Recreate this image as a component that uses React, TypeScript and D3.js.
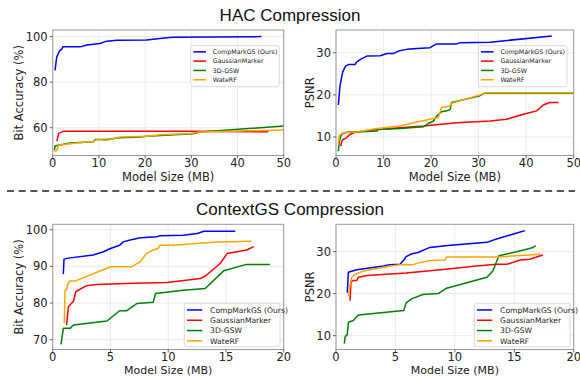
import React from "react";
import * as d3 from "d3";

const seriesNames = ["CompMarkGS (Ours)", "GaussianMarker", "3D-GSW", "WateRF"];
const seriesColors = ["#0000ff", "#ff0000", "#008000", "#ffa500"];

// HAC Bit Accuracy
const hacAccBlue: [number, number][] = [[0.5,85.2],[0.87,91],[1.44,93.6],[1.95,94.5],[2.2,95.5],[5.9,95.5],[7.4,96.3],[10.2,97],[11.7,98],[13.9,98.4],[20.3,98.5],[24.7,99.5],[26,99.7],[45.2,100]];
const hacAccRed: [number, number][] = [[0.9,54.1],[1.3,57.5],[2.3,58.4],[30,58.4],[46.7,58.2]];
const hacAccGreen: [number, number][] = [[0.36,50.1],[0.5,52],[1.2,52.3],[3.75,53.3],[8.8,53.8],[9.2,54.8],[11.7,54.8],[14.6,55.6],[18.9,55.9],[20.3,56.3],[30.4,57.3],[31.9,58.1],[50,60.7]];
const hacAccOrange: [number, number][] = [[0.36,49.6],[0.87,50],[1.2,52.1],[1.6,52.4],[6.6,53.6],[8.8,54],[9.5,54.8],[11.7,54.5],[14.6,55.9],[20.3,56.3],[23.2,56.9],[29.7,57.5],[31.9,58.1],[39.1,58.5],[50,59]];

// HAC PSNR
const hacPsnrBlue: [number, number][] = [[0.49,17.6],[0.84,22.2],[1.4,25.4],[1.7,26.1],[2.0,26.8],[2.6,27.2],[4,27.2],[4.3,27.8],[5.4,28.6],[6.5,29.2],[9.3,29.3],[10.7,29.8],[12.1,29.8],[13.1,30.4],[14.9,30.8],[17,31],[19.8,31.2],[20.5,31.7],[21.2,32.1],[25.4,32.1],[26.1,32.4],[32.4,32.5],[45.4,34]];
const hacPsnrRed: [number, number][] = [[1,7.8],[1.2,9],[1.5,9.4],[2.2,9.8],[2.9,10.6],[4.3,11.2],[8.6,11.8],[13.5,12.2],[18.4,12.6],[25.4,13.4],[32.4,13.8],[35.9,14.2],[39.4,15.4],[42.2,16.2],[43.6,17.6],[45,18.2],[46.8,18.2]];
const hacPsnrGreen: [number, number][] = [[0.49,6.6],[0.7,9],[1,10.2],[1.5,10.9],[2.6,11.2],[4.3,11.2],[8.6,11.4],[8.9,11.8],[13.5,12],[18.4,12.4],[19.4,13.2],[20.5,13.8],[21.2,15],[22.2,16],[23.3,16.2],[24,16.5],[24.3,18.2],[30.3,19.8],[31.3,20.4],[50,20.4]];
const hacPsnrOrange: [number, number][] = [[0.49,8.2],[0.7,10.4],[1.5,11],[4.3,11.2],[8.6,12],[13.5,12.6],[15.6,13.2],[20.5,14.4],[21.5,14.6],[22.2,17],[23.3,17.2],[24,17.4],[24.3,18],[30.3,20],[31.3,20.5],[50,20.5]];

// ContextGS Bit Accuracy
const ctxAccBlue: [number, number][] = [[0.92,87.9],[0.98,92],[1.2,92.2],[3.5,93.1],[4.4,94],[5,94.9],[5.8,95.8],[6.1,96.7],[6.7,97.2],[7.6,97.8],[9,98.1],[9.3,98.4],[11.3,98.5],[12.5,99],[13.1,99.6],[15.8,99.6]];
const ctxAccRed: [number, number][] = [[1.2,74],[1.36,79],[1.65,80],[1.8,80.5],[2.0,83.1],[2.2,83.5],[2.9,84.7],[3.8,85.1],[7,85.4],[9.9,85.6],[12.8,86.7],[13.3,87.6],[14.5,90.8],[15.1,93.5],[16.8,94.5],[17.4,95.4]];
const ctxAccGreen: [number, number][] = [[0.72,68.7],[0.92,73.1],[1.5,73.1],[1.8,74],[4.7,75.1],[5.8,77.9],[6.4,77.9],[7.3,79.9],[8.7,80.2],[8.9,82.6],[11.3,83.5],[13.2,84],[14.8,88.8],[16.7,90.5],[18.8,90.5]];
const ctxAccOrange: [number, number][] = [[1.0,74.5],[1.07,83.5],[1.2,83.7],[1.36,85.6],[1.5,86],[1.93,86],[5,89.9],[6.8,89.9],[7.6,91.3],[8.1,93.5],[8.7,94.5],[9.1,94.9],[9.3,95.8],[10.4,95.8],[14.2,96.7],[17.2,96.9]];

// ContextGS PSNR
const ctxPsnrBlue: [number, number][] = [[0.95,20.2],[1.04,25.1],[1.74,25.7],[4,26.6],[4.5,26.9],[5.4,27],[5.7,28],[5.9,28.8],[6.4,29.5],[6.9,29.8],[7.9,31],[9.2,31.4],[10.4,31.7],[12.7,32.2],[13.5,33],[15.9,35]];
const ctxPsnrRed: [number, number][] = [[1.18,18.3],[1.26,22.8],[1.46,23.1],[1.74,23.1],[1.88,23.9],[2.6,24.3],[5.9,24.9],[8.8,25.7],[11.6,26.5],[13.5,27],[14.4,27],[15.5,28],[16.3,28.2],[17.4,29.2]];
const ctxPsnrGreen: [number, number][] = [[0.7,8.1],[0.76,9.7],[0.95,10.3],[1.04,13.2],[1.46,13.6],[1.88,14.9],[5.7,16],[5.9,17.8],[6.4,18.8],[7.3,19.8],[8.6,20],[9.3,21.3],[12.7,23.9],[13.2,25.4],[13.7,29],[15.8,30.4],[16.5,30.9],[16.8,31.4]];
const ctxPsnrOrange: [number, number][] = [[1.04,19.4],[1.18,22.1],[1.32,23.9],[1.6,24.5],[2.2,25.3],[4.5,26.5],[5.4,26.9],[6.5,26.9],[6.8,27.2],[7.9,27.9],[9.2,28],[9.3,28.7],[13.5,28.7],[17.2,29.4]];

const hacXTicks = [0, 10, 20, 30, 40, 50];
const ctxXTicks = [0, 5, 10, 15, 20];
const hacAccYTicks = [60, 80, 100];
const hacPsnrYTicks = [10, 20, 30];
const ctxAccYTicks = [70, 80, 90, 100];
const ctxPsnrYTicks = [10, 20, 30];

const titles = ["HAC Compression", "ContextGS Compression"];
const xLabel = "Model Size (MB)";
const yLabels = ["Bit Accuracy (%)", "PSNR"];

const FONT = "DejaVu Sans, sans-serif";
const FS = 11.5;

type PanelProps = {
  left: number; right: number; top: number; bottom: number;
  xDomain: [number, number]; yDomain: [number, number];
  xTicks: number[]; yTicks: number[];
  series: [number, number][][];
  yLabel: string; yLabelX: number; xLabelY: number; xLabelFs: number;
  legend: { x: number; y: number; w: number; h: number; fs: number; rowH: number };
  id: string;
};

function Panel(p: PanelProps) {
  const x = d3.scaleLinear().domain(p.xDomain).range([p.left, p.right]);
  const y = d3.scaleLinear().domain(p.yDomain).range([p.bottom, p.top]);
  const line = d3.line<[number, number]>().x((d) => x(d[0])).y((d) => y(d[1]));
  const lg = p.legend;
  return (
    <g>
      <defs>
        <clipPath id={p.id}>
          <rect x={p.left} y={p.top} width={p.right - p.left} height={p.bottom - p.top} />
        </clipPath>
      </defs>
      <rect x={p.left} y={p.top} width={p.right - p.left} height={p.bottom - p.top} fill="white" />
      {p.xTicks.map((t) => (
        <line key={"gx" + t} x1={x(t)} x2={x(t)} y1={p.top} y2={p.bottom} stroke="#e6e6e6" strokeWidth={0.8} />
      ))}
      {p.yTicks.map((t) => (
        <line key={"gy" + t} x1={p.left} x2={p.right} y1={y(t)} y2={y(t)} stroke="#e6e6e6" strokeWidth={0.8} />
      ))}
      <g clipPath={`url(#${p.id})`}>
        {p.series.map((s, i) => (
          <path key={i} d={line(s) || ""} fill="none" stroke={seriesColors[i]} strokeWidth={1.5} strokeLinejoin="round" />
        ))}
      </g>
      <rect x={p.left} y={p.top} width={p.right - p.left} height={p.bottom - p.top} fill="none" stroke="#999" strokeWidth={1} />
      {p.xTicks.map((t) => (
        <g key={"tx" + t}>
          <line x1={x(t)} x2={x(t)} y1={p.bottom} y2={p.bottom + 3} stroke="#444" strokeWidth={0.8} />
          <text x={x(t)} y={p.bottom + 11.8} textAnchor="middle" fontSize={FS} fontFamily={FONT} fill="#222">{t}</text>
        </g>
      ))}
      {p.yTicks.map((t) => (
        <g key={"ty" + t}>
          <line x1={p.left - 3} x2={p.left} y1={y(t)} y2={y(t)} stroke="#444" strokeWidth={0.8} />
          <text x={p.left - 5} y={y(t)} dy="0.35em" textAnchor="end" fontSize={FS} fontFamily={FONT} fill="#222">{t}</text>
        </g>
      ))}
      <text x={(p.left + p.right) / 2} y={p.xLabelY} textAnchor="middle" fontSize={p.xLabelFs} fontFamily={FONT} fill="#222">{xLabel}</text>
      <text transform={`translate(${p.yLabelX},${(p.top + p.bottom) / 2}) rotate(-90)`} textAnchor="middle" dy="0.35em" fontSize={FS} fontFamily={FONT} fill="#222">{p.yLabel}</text>
      <rect x={lg.x} y={lg.y} width={lg.w} height={lg.h} rx={2} fill="white" fillOpacity={0.85} stroke="#d0d0d0" strokeWidth={0.8} />
      {seriesNames.map((n, i) => {
        const cy = lg.y + lg.rowH * (i + 0.5) + 1.5;
        return (
          <g key={n}>
            <line x1={lg.x + 2.7} x2={lg.x + 2.7 + lg.fs * 2} y1={cy} y2={cy} stroke={seriesColors[i]} strokeWidth={1.5} />
            <text x={lg.x + 4.5 + lg.fs * 2.8} y={cy} dy="0.35em" fontSize={lg.fs} fontFamily={FONT} fill="#222">{n}</text>
          </g>
        );
      })}
    </g>
  );
}

export default function App() {
  return (
    <svg width={580} height={377} style={{ display: "block", position: "absolute", left: 0, top: 0 }}>
      <rect width={580} height={377} fill="white" />
      <text x={290} y={21} textAnchor="middle" fontSize={17} fontFamily="Liberation Sans, Arial, sans-serif" fill="#111">{titles[0]}</text>
      <text x={290} y={215} textAnchor="middle" fontSize={17} fontFamily="Liberation Sans, Arial, sans-serif" fill="#111">{titles[1]}</text>
      <line x1={7} x2={575} y1={191} y2={191} stroke="#555" strokeWidth={2} strokeDasharray="7,4.7" />
      <Panel id="c1" left={52.7} right={283.7} top={30} bottom={155.5} xDomain={[0, 50]} yDomain={[47.8, 102.9]}
        xTicks={hacXTicks} yTicks={hacAccYTicks} series={[hacAccBlue, hacAccRed, hacAccGreen, hacAccOrange]}
        yLabel={yLabels[0]} yLabelX={19} xLabelY={181} xLabelFs={FS}
        legend={{ x: 190.7, y: 45.7, w: 88.6, h: 41, fs: 6.3, rowH: 9.3 }} />
      <Panel id="c2" left={336} right={573.7} top={30} bottom={155.5} xDomain={[0, 50]} yDomain={[5.6, 35.4]}
        xTicks={hacXTicks} yTicks={hacPsnrYTicks} series={[hacPsnrBlue, hacPsnrRed, hacPsnrGreen, hacPsnrOrange]}
        yLabel={yLabels[1]} yLabelX={310} xLabelY={181} xLabelFs={FS}
        legend={{ x: 478.3, y: 45.7, w: 88.7, h: 41, fs: 6.3, rowH: 9.3 }} />
      <Panel id="c3" left={52.7} right={283.7} top={224.3} bottom={349.5} xDomain={[0, 20]} yDomain={[67.33, 101.5]}
        xTicks={ctxXTicks} yTicks={ctxAccYTicks} series={[ctxAccBlue, ctxAccRed, ctxAccGreen, ctxAccOrange]}
        yLabel={yLabels[0]} yLabelX={19} xLabelY={374.2} xLabelFs={11}
        legend={{ x: 184.3, y: 303.3, w: 95.7, h: 43.4, fs: 7.6, rowH: 10.3 }} />
      <Panel id="c4" left={336} right={573.7} top={224.3} bottom={349.5} xDomain={[0, 20]} yDomain={[6.7, 36.5]}
        xTicks={ctxXTicks} yTicks={ctxPsnrYTicks} series={[ctxPsnrBlue, ctxPsnrRed, ctxPsnrGreen, ctxPsnrOrange]}
        yLabel={yLabels[1]} yLabelX={310} xLabelY={374.2} xLabelFs={11}
        legend={{ x: 474.3, y: 303.3, w: 95.7, h: 43.4, fs: 7.6, rowH: 10.3 }} />
    </svg>
  );
}
